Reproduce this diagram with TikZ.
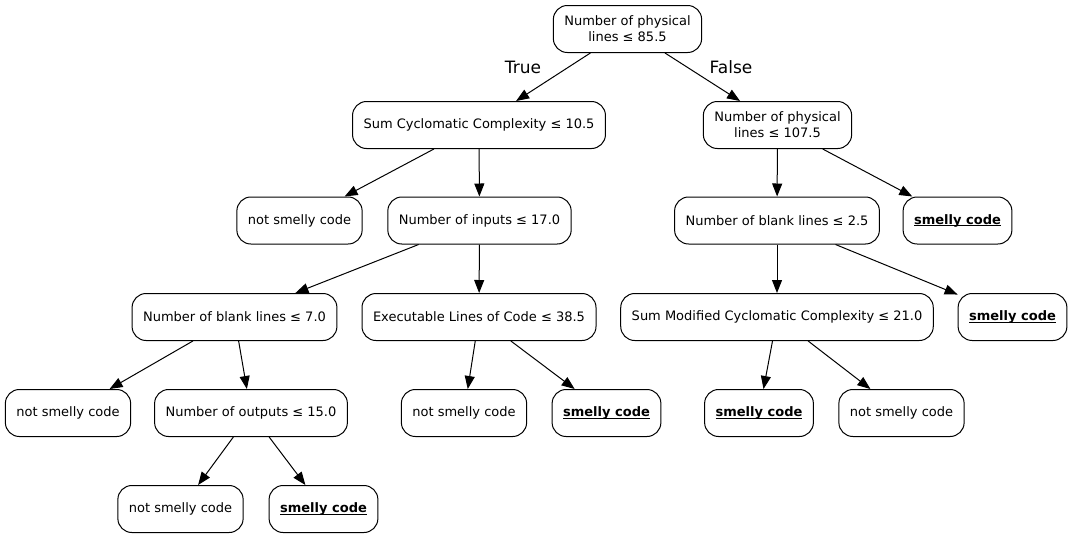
\documentclass[tikz,border=0pt]{standalone}
\usepackage{fontspec}
\setmainfont{DejaVu Sans}
\usetikzlibrary{arrows.meta}
\newlength\smellyw
\newcommand\smellytxt{\settowidth\smellyw{\textbf{smelly code}}\textbf{smelly code}\llap{\rule[-2.2pt]{\smellyw}{0.9pt}}}
\begin{document}
\begin{tikzpicture}[x=1pt,y=-1pt,
 box/.style={draw, line width=1pt, rounded corners=14pt, minimum height=47pt, inner xsep=11pt, align=center, font=\fontsize{13}{16}\selectfont},
 edge/.style={line width=1pt, -{Triangle[length=13pt,width=10pt]}},
 lbl/.style={font=\fontsize{17}{20}\selectfont}]
\useasboundingbox (0,0) rectangle (1073,539);
\node[box] (n0) at (627.5,29) {Number of physical\\lines ≤ 85.5};
\node[box] (n1) at (479,125) {Sum Cyclomatic Complexity ≤ 10.5};
\node[box] (n2) at (777.5,125) {Number of physical\\lines ≤ 107.5};
\node[box] (n3) at (299.5,220.5) {not smelly code};
\node[box] (n4) at (479.5,220.5) {Number of inputs ≤ 17.0};
\node[box] (n5) at (777,220.5) {Number of blank lines ≤ 2.5};
\node[box] (n6) at (957.5,220.5) {\smellytxt};
\node[box] (n7) at (234.5,317) {Number of blank lines ≤ 7.0};
\node[box] (n8) at (479,317) {Executable Lines of Code ≤ 38.5};
\node[box] (n9) at (777,317) {Sum Modified Cyclomatic Complexity ≤ 21.0};
\node[box] (n10) at (1012.5,317) {\smellytxt};
\node[box] (n11) at (68,413) {not smelly code};
\node[box] (n12) at (251,413) {Number of outputs ≤ 15.0};
\node[box] (n13) at (464,413) {not smelly code};
\node[box] (n14) at (606.5,413) {\smellytxt};
\node[box] (n15) at (759,413) {\smellytxt};
\node[box] (n16) at (901.5,413) {not smelly code};
\node[box] (n17) at (180.5,509) {not smelly code};
\node[box] (n18) at (323.5,509) {\smellytxt};
\node[lbl] (t) at (523,67) {True};
\node[lbl] (f) at (731,67) {False};
\draw[edge] (n0) -- (n1);
\draw[edge] (n0) -- (n2);
\draw[edge] (n1) -- (n3);
\draw[edge] (n1) -- (n4);
\draw[edge] (n2) -- (n5);
\draw[edge] (n2) -- (n6);
\draw[edge] (n4) -- (n7);
\draw[edge] (n4) -- (n8);
\draw[edge] (n5) -- (n9);
\draw[edge] (n5) -- (n10);
\draw[edge] (n7) -- (n11);
\draw[edge] (n7) -- (n12);
\draw[edge] (n8) -- (n13);
\draw[edge] (n8) -- (n14);
\draw[edge] (n9) -- (n15);
\draw[edge] (n9) -- (n16);
\draw[edge] (n12) -- (n17);
\draw[edge] (n12) -- (n18);
\end{tikzpicture}
\end{document}
